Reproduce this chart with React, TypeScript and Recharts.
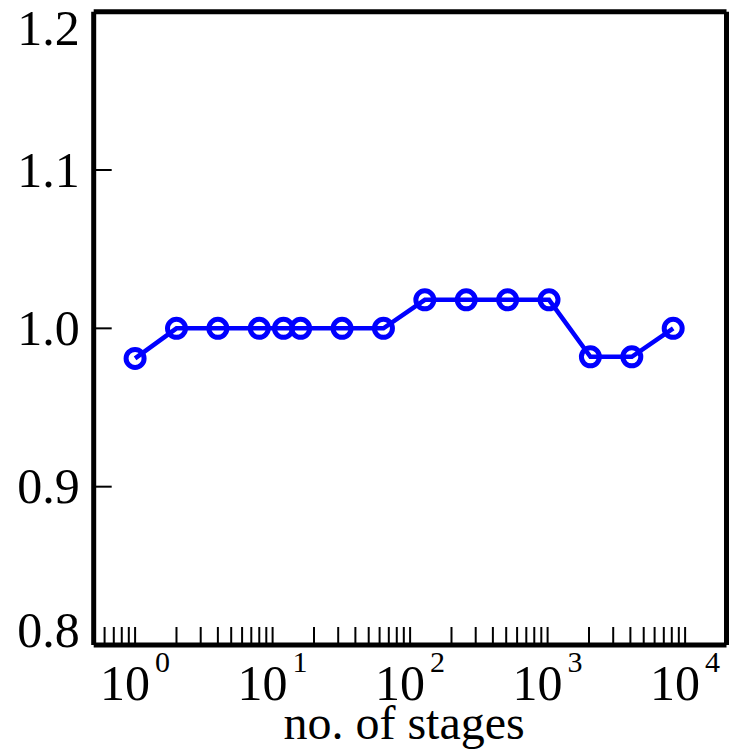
import React from 'react';
import { LineChart, Line, XAxis, YAxis, ReferenceLine } from 'recharts';

// number of stages vs. ratio
const stages = [1, 2, 4, 8, 12, 16, 32, 64, 128, 256, 512, 1024, 2048, 4096, 8192];
const ratio = [0.981, 1.0, 1.0, 1.0, 1.0, 1.0, 1.0, 1.0, 1.018, 1.018, 1.018, 1.018, 0.982, 0.982, 1.0];

const xTicks = [
  0.5, 0.6, 0.7, 0.8, 0.9,
  1, 2, 3, 4, 5, 6, 7, 8, 9,
  10, 20, 30, 40, 50, 60, 70, 80, 90,
  100, 200, 300, 400, 500, 600, 700, 800, 900,
  1000, 2000, 3000, 4000, 5000, 6000, 7000, 8000, 9000,
  10000,
];
const xDomain = [0.5, 20000];
const yTicks = [0.8, 0.9, 1.0, 1.1, 1.2];
const yTickLabels = ['0.8', '0.9', '1.0', '1.1', '1.2'];
const yDomain = [0.8, 1.2];

const data = stages.map((s, i) => ({ stages: s, ratio: ratio[i] }));

const FONT = '"Liberation Serif", "Times New Roman", serif';
const BLUE = '#0000ff';

const isDecade = (v: number) => {
  const l = Math.log10(v);
  return Math.abs(l - Math.round(l)) < 1e-9;
};

const XTick = (props: any) => {
  const { x, y, payload } = props;
  const v = payload.value;
  return (
    <g>
      <line x1={x} y1={y} x2={x} y2={y - 18} stroke="#000" strokeWidth={2} />
      {isDecade(v) && (
        <text x={x} y={y + 55} textAnchor="middle" fontFamily={FONT} fontSize={50} fill="#000">
          10
          <tspan dx={5} dy={-28} fontSize={30}>
            {Math.round(Math.log10(v))}
          </tspan>
        </text>
      )}
    </g>
  );
};

const YTick = (props: any) => {
  const { x, y, payload, index } = props;
  const v = payload.value;
  const edge = v <= 0.8 + 1e-9 || v >= 1.2 - 1e-9;
  const base = Math.min(Math.max(y + 16.5, 45), 647);
  return (
    <g>
      {!edge && <line x1={x} y1={y} x2={x + 18} y2={y} stroke="#000" strokeWidth={2} />}
      <text x={x - 14} y={base} textAnchor="end" fontFamily={FONT} fontSize={50} fill="#000">
        {yTickLabels[index] ?? v.toFixed(1)}
      </text>
    </g>
  );
};

export default function App() {
  return (
    <div style={{ position: 'absolute', left: 0, top: 0, background: '#fff' }}>
      <LineChart
        width={729}
        height={749}
        data={data}
        margin={{ top: 11.7, right: 2.5, left: 0, bottom: 0 }}
      >
        <XAxis
          dataKey="stages"
          type="number"
          scale="log"
          domain={xDomain}
          ticks={xTicks}
          interval={0}
          height={104}
          tickSize={0}
          tickMargin={0}
          tickLine={false}
          tick={<XTick />}
          axisLine={{ stroke: '#000', strokeWidth: 5 }}
          allowDataOverflow
          label={{
            value: 'no. of stages',
            position: 'insideBottom',
            offset: 10,
            dx: -6,
            style: { fontFamily: FONT, fontSize: 48, fill: '#000', whiteSpace: 'pre' },
          }}
        />
        <YAxis
          type="number"
          domain={yDomain}
          ticks={yTicks}
          interval={0}
          width={93.7}
          tickSize={0}
          tickMargin={0}
          tickLine={false}
          tick={<YTick />}
          axisLine={{ stroke: '#000', strokeWidth: 5 }}
          allowDataOverflow
        />
        <ReferenceLine y={yDomain[1]} stroke="#000" strokeWidth={5} ifOverflow="visible" />
        <ReferenceLine x={xDomain[1]} stroke="#000" strokeWidth={5} ifOverflow="visible" />
        <Line
          type="linear"
          dataKey="ratio"
          stroke={BLUE}
          strokeWidth={4.5}
          dot={{ r: 9, fill: 'none', stroke: BLUE, strokeWidth: 5 }}
          activeDot={false}
          isAnimationActive={false}
        />
      </LineChart>
    </div>
  );
}
